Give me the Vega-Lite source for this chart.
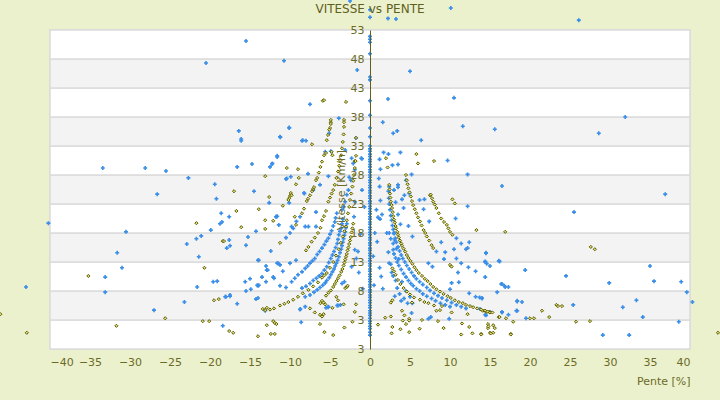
{
  "$schema": "https://vega.github.io/schema/vega-lite/v6.json",
  "width": 640,
  "height": 319,
  "autosize": "none",
  "padding": {"left": 50, "top": 30, "right": 30, "bottom": 51},
  "background": "#ecf1cd",
  "config": {"font": "DejaVu Sans", "view": {"stroke": "#d8d8d8", "strokeWidth": 1.5}},
  "title": {"text": "VITESSE vs PENTE", "fontSize": 12, "fontWeight": "normal", "color": "#5f5f1e", "offset": 0, "dy": 17},
  "datasets": {
    "bands": [
      {"p": -40, "p2": 40, "v": -2, "v2": 3, "b": "w"},
      {"p": -40, "p2": 40, "v": 3, "v2": 8, "b": "g"},
      {"p": -40, "p2": 40, "v": 8, "v2": 13, "b": "w"},
      {"p": -40, "p2": 40, "v": 13, "v2": 18, "b": "g"},
      {"p": -40, "p2": 40, "v": 18, "v2": 23, "b": "w"},
      {"p": -40, "p2": 40, "v": 23, "v2": 28, "b": "g"},
      {"p": -40, "p2": 40, "v": 28, "v2": 33, "b": "w"},
      {"p": -40, "p2": 40, "v": 33, "v2": 38, "b": "g"},
      {"p": -40, "p2": 40, "v": 38, "v2": 43, "b": "w"},
      {"p": -40, "p2": 40, "v": 43, "v2": 48, "b": "g"},
      {"p": -40, "p2": 40, "v": 48, "v2": 53, "b": "w"}
    ],
    "pts": [
      {"p":0,"v":0.4,"s":"b"},{"p":0,"v":0.9,"s":"b"},{"p":0,"v":1.5,"s":"b"},{"p":0,"v":1.9,"s":"b"},{"p":0,"v":2.4,"s":"b"},{"p":0,"v":2.8,"s":"b"},{"p":0,"v":3.3,"s":"b"},{"p":0,"v":3.8,"s":"b"},{"p":0,"v":4.2,"s":"b"},{"p":0,"v":4.6,"s":"b"},{"p":0,"v":5.1,"s":"b"},{"p":0,"v":5.5,"s":"b"},{"p":0,"v":6.0,"s":"b"},{"p":0,"v":6.4,"s":"b"},{"p":0,"v":6.9,"s":"b"},{"p":0,"v":7.3,"s":"b"},{"p":0,"v":7.8,"s":"b"},{"p":0,"v":8.2,"s":"b"},{"p":0,"v":8.7,"s":"b"},{"p":0,"v":9.1,"s":"b"},{"p":0,"v":9.6,"s":"b"},{"p":0,"v":10.0,"s":"b"},{"p":0,"v":10.5,"s":"b"},{"p":0,"v":10.9,"s":"b"},{"p":0,"v":11.4,"s":"b"},{"p":0,"v":11.8,"s":"b"},{"p":0,"v":12.3,"s":"b"},{"p":0,"v":12.7,"s":"b"},{"p":0,"v":13.2,"s":"b"},{"p":0,"v":13.6,"s":"b"},{"p":0,"v":14.1,"s":"b"},{"p":0,"v":14.5,"s":"b"},{"p":0,"v":15.0,"s":"b"},{"p":0,"v":15.4,"s":"b"},{"p":0,"v":15.9,"s":"b"},{"p":0,"v":16.3,"s":"b"},{"p":0,"v":16.8,"s":"b"},{"p":0,"v":17.2,"s":"b"},{"p":0,"v":17.7,"s":"b"},{"p":0,"v":18.1,"s":"b"},{"p":0,"v":18.6,"s":"b"},{"p":0,"v":19.0,"s":"b"},{"p":0,"v":19.5,"s":"b"},{"p":0,"v":19.9,"s":"b"},{"p":0,"v":20.4,"s":"b"},{"p":0,"v":20.8,"s":"b"},{"p":0,"v":21.3,"s":"b"},{"p":0,"v":21.7,"s":"b"},{"p":0,"v":22.2,"s":"b"},{"p":0,"v":22.6,"s":"b"},{"p":0,"v":23.1,"s":"b"},{"p":0,"v":23.5,"s":"b"},{"p":0,"v":24.0,"s":"b"},{"p":0,"v":24.4,"s":"b"},{"p":0,"v":24.9,"s":"b"},{"p":0,"v":25.3,"s":"b"},{"p":0,"v":25.8,"s":"b"},{"p":0,"v":26.2,"s":"b"},{"p":0,"v":26.7,"s":"b"},{"p":0,"v":27.1,"s":"b"},{"p":0,"v":27.6,"s":"b"},{"p":0,"v":28.0,"s":"b"},{"p":0,"v":28.5,"s":"b"},{"p":0,"v":28.9,"s":"b"},{"p":0,"v":29.4,"s":"b"},{"p":0,"v":29.8,"s":"b"},{"p":0,"v":30.3,"s":"b"},{"p":0,"v":30.7,"s":"b"},{"p":0,"v":31.2,"s":"b"},{"p":0,"v":31.6,"s":"b"},{"p":0,"v":32.1,"s":"b"},{"p":0,"v":32.5,"s":"b"},{"p":0,"v":33.0,"s":"b"},{"p":0,"v":34.6,"s":"b"},{"p":0,"v":36.1,"s":"b"},{"p":0,"v":38.3,"s":"b"},{"p":0,"v":40.8,"s":"b"},{"p":0,"v":44.4,"s":"b"},{"p":0,"v":44.9,"s":"b"},{"p":0,"v":48.9,"s":"b"},{"p":0,"v":50.9,"s":"b"},{"p":0,"v":51.4,"s":"b"},{"p":0,"v":51.9,"s":"b"},{"p":0,"v":55.2,"s":"b"},{"p":0,"v":56.5,"s":"b"},
      {"p":-33.4,"v":29.2,"s":"b"},{"p":-28.1,"v":29.2,"s":"b"},{"p":-25.5,"v":28.7,"s":"b"},{"p":-22.7,"v":27.5,"s":"b"},{"p":-19.4,"v":26.4,"s":"b"},{"p":-26.6,"v":24.7,"s":"b"},{"p":-19.2,"v":23.9,"s":"b"},{"p":-18.6,"v":21.4,"s":"b"},{"p":-17.6,"v":20.8,"s":"b"},{"p":-40.2,"v":19.7,"s":"b"},{"p":-18.5,"v":19.9,"s":"b"},{"p":-18.75,"v":19.6,"s":"b"},{"p":-30.5,"v":18.2,"s":"b"},{"p":-19.9,"v":18.5,"s":"b"},{"p":-21.1,"v":17.5,"s":"b"},{"p":-21.7,"v":17.0,"s":"b"},{"p":-17.6,"v":16.8,"s":"b"},{"p":-22.9,"v":16.1,"s":"b"},{"p":-17.5,"v":15.8,"s":"b"},{"p":-17.9,"v":15.4,"s":"b"},{"p":-31.6,"v":14.6,"s":"b"},{"p":-21.4,"v":13.9,"s":"b"},{"p":-31,"v":12.0,"s":"b"},{"p":-33.1,"v":10.4,"s":"b"},{"p":-19.6,"v":9.6,"s":"b"},{"p":-19.1,"v":9.7,"s":"b"},{"p":-21.6,"v":8.7,"s":"b"},{"p":-43,"v":8.7,"s":"b"},{"p":-33.1,"v":7.8,"s":"b"},{"p":-18.1,"v":7.0,"s":"b"},{"p":-17.5,"v":7.3,"s":"b"},{"p":-23.2,"v":6.1,"s":"b"},{"p":-16.6,"v":5.8,"s":"b"},{"p":-27,"v":4.7,"s":"b"},{"p":-18.4,"v":2.0,"s":"b"},{"p":-16.4,"v":35.6,"s":"b"},{"p":-15.5,"v":51.1,"s":"b"},{"p":-20.5,"v":47.3,"s":"b"},{"p":-10.75,"v":47.7,"s":"b"},{"p":-1.6,"v":46.1,"s":"b"},{"p":-7.5,"v":40.2,"s":"b"},{"p":-3.9,"v":37.8,"s":"b"},{"p":-5.1,"v":35.2,"s":"b"},{"p":-10.1,"v":36.1,"s":"b"},{"p":-11.25,"v":34.6,"s":"b"},{"p":-1.75,"v":34.4,"s":"b"},{"p":-16.1,"v":34.2,"s":"b"},{"p":-16.1,"v":33.9,"s":"b"},{"p":-8.5,"v":33.9,"s":"b"},{"p":-8.0,"v":33.9,"s":"b"},{"p":-4.9,"v":32.1,"s":"b"},{"p":-3.1,"v":32.3,"s":"b"},{"p":-1.0,"v":30.8,"s":"b"},{"p":-11.6,"v":31.1,"s":"b"},{"p":-14.75,"v":29.9,"s":"b"},{"p":-12.25,"v":29.9,"s":"b"},{"p":-12.5,"v":29.4,"s":"b"},{"p":-16.6,"v":29.4,"s":"b"},{"p":-7.75,"v":28.2,"s":"b"},{"p":-9.9,"v":27.7,"s":"b"},{"p":-10.5,"v":27.3,"s":"b"},{"p":-14.5,"v":25.2,"s":"b"},{"p":-8.25,"v":24.9,"s":"b"},{"p":-12.6,"v":23.2,"s":"b"},{"p":-10.1,"v":23.2,"s":"b"},{"p":-11.6,"v":20.9,"s":"b"},{"p":-11.75,"v":20.8,"s":"b"},{"p":-11.4,"v":19.4,"s":"b"},{"p":-14.25,"v":18.3,"s":"b"},{"p":-15.25,"v":17.3,"s":"b"},{"p":-15.5,"v":15.9,"s":"b"},{"p":-12.4,"v":14.9,"s":"b"},{"p":-13.9,"v":13.3,"s":"b"},{"p":-11.6,"v":12.8,"s":"b"},{"p":-11.25,"v":12.5,"s":"b"},{"p":-13,"v":12.3,"s":"b"},{"p":-12.9,"v":11.6,"s":"b"},{"p":-10.9,"v":11.4,"s":"b"},{"p":-13.5,"v":10.4,"s":"b"},{"p":-12.1,"v":10.4,"s":"b"},{"p":-15.6,"v":9.6,"s":"b"},{"p":-15,"v":10.1,"s":"b"},{"p":-13,"v":9.6,"s":"b"},{"p":-11.25,"v":8.9,"s":"b"},{"p":-14.1,"v":9,"s":"b"},{"p":-13.9,"v":9,"s":"b"},{"p":-14.9,"v":8.3,"s":"b"},{"p":-15.5,"v":8,"s":"b"},{"p":-14.25,"v":6.6,"s":"b"},{"p":-14,"v":6.8,"s":"b"},{"p":-18,"v":7,"s":"b"},{"p":-17.5,"v":7.1,"s":"b"},{"p":-10.1,"v":36.2,"s":"b"},{"p":-11.2,"v":34.5,"s":"b"},{"p":-8.4,"v":34,"s":"b"},{"p":-11.6,"v":31.3,"s":"b"},{"p":-12.2,"v":30,"s":"b"},{"p":-5.6,"v":32,"s":"b"},{"p":-10.4,"v":27.4,"s":"b"},{"p":-5.2,"v":27.8,"s":"b"},{"p":-8.2,"v":24.8,"s":"b"},{"p":-6.25,"v":26.3,"s":"b"},{"p":-6.75,"v":21.6,"s":"b"},{"p":-11.7,"v":20.8,"s":"b"},{"p":-8.1,"v":19.1,"s":"b"},{"p":-7.7,"v":19.1,"s":"b"},{"p":-6.75,"v":19.1,"s":"b"},{"p":-1.0,"v":25.4,"s":"b"},{"p":-1.1,"v":30.9,"s":"b"},{"p":-1.9,"v":28.9,"s":"b"},{"p":-1.9,"v":23.4,"s":"b"},{"p":-2.0,"v":20.8,"s":"b"},{"p":-14,"v":13.3,"s":"b"},{"p":-12.8,"v":11.6,"s":"b"},{"p":-12,"v":10.2,"s":"b"},{"p":-11.5,"v":12.8,"s":"b"},{"p":-10,"v":12.8,"s":"b"},{"p":-9.25,"v":13.3,"s":"b"},{"p":-14,"v":8.9,"s":"b"},{"p":-13.1,"v":4.6,"s":"b"},{"p":-8.6,"v":2.6,"s":"b"},{"p":-8.7,"v":4.9,"s":"b"},{"p":-8.1,"v":5.3,"s":"b"},{"p":-5.2,"v":5.3,"s":"b"},{"p":-4.0,"v":5.5,"s":"b"},{"p":-3.5,"v":9.3,"s":"b"},{"p":-3.2,"v":9.6,"s":"b"},{"p":-1.9,"v":15.1,"s":"b"},{"p":-1.5,"v":14.8,"s":"b"},{"p":-1.7,"v":13.6,"s":"b"},{"p":-7.1,"v":25.4,"s":"b"},{"p":-2.5,"v":58,"s":"b"},{"p":-5.5,"v":5.1,"s":"b"},{"p":-5.25,"v":5.2,"s":"b"},{"p":-4.1,"v":5.5,"s":"b"},{"p":-3.7,"v":5.6,"s":"b"},{"p":-8.75,"v":4.8,"s":"b"},{"p":-1.2,"v":17.8,"s":"b"},{"p":-0.7,"v":22.5,"s":"b"},{"p":-1.4,"v":11.2,"s":"b"},{"p":-2.3,"v":12.2,"s":"b"},{"p":-0.9,"v":8.4,"s":"b"},{"p":-2.6,"v":27.6,"s":"b"},
      {"p":-8.1,"v":7.0,"s":"b"},{"p":-7.5,"v":7.3,"s":"b"},{"p":-7.0,"v":7.8,"s":"b"},{"p":-6.6,"v":8.2,"s":"b"},{"p":-6.25,"v":8.6,"s":"b"},{"p":-5.9,"v":9.0,"s":"b"},{"p":-5.6,"v":9.4,"s":"b"},{"p":-5.4,"v":9.8,"s":"b"},{"p":-5.1,"v":10.3,"s":"b"},{"p":-4.9,"v":10.8,"s":"b"},{"p":-4.7,"v":11.3,"s":"b"},{"p":-4.5,"v":11.8,"s":"b"},{"p":-4.35,"v":12.3,"s":"b"},{"p":-4.2,"v":12.8,"s":"b"},{"p":-4.05,"v":13.3,"s":"b"},{"p":-3.9,"v":13.9,"s":"b"},{"p":-3.75,"v":14.6,"s":"b"},{"p":-3.6,"v":15.2,"s":"b"},{"p":-3.5,"v":15.8,"s":"b"},{"p":-3.4,"v":16.4,"s":"b"},{"p":-3.3,"v":17.0,"s":"b"},{"p":-3.2,"v":17.6,"s":"b"},{"p":-3.1,"v":18.2,"s":"b"},{"p":-3.0,"v":18.9,"s":"b"},{"p":-2.9,"v":19.6,"s":"b"},
      {"p":-8.5,"v":8.5,"s":"b"},{"p":-8.0,"v":8.8,"s":"b"},{"p":-7.5,"v":9.3,"s":"b"},{"p":-7.1,"v":9.8,"s":"b"},{"p":-6.7,"v":10.2,"s":"b"},{"p":-6.35,"v":10.6,"s":"b"},{"p":-6.0,"v":11.0,"s":"b"},{"p":-5.7,"v":11.6,"s":"b"},{"p":-5.4,"v":12.2,"s":"b"},{"p":-5.15,"v":12.9,"s":"b"},{"p":-4.9,"v":13.6,"s":"b"},{"p":-4.7,"v":14.2,"s":"b"},{"p":-4.5,"v":14.8,"s":"b"},{"p":-4.3,"v":15.5,"s":"b"},{"p":-4.1,"v":16.2,"s":"b"},{"p":-4.0,"v":16.9,"s":"b"},{"p":-3.9,"v":17.7,"s":"b"},{"p":-3.75,"v":18.3,"s":"b"},{"p":-3.6,"v":18.8,"s":"b"},{"p":-3.5,"v":19.6,"s":"b"},{"p":-3.4,"v":20.4,"s":"b"},
      {"p":-10.5,"v":8.6,"s":"b"},{"p":-9.8,"v":9.6,"s":"b"},{"p":-9.4,"v":10.2,"s":"b"},{"p":-9.0,"v":10.8,"s":"b"},{"p":-8.5,"v":11.3,"s":"b"},{"p":-8.1,"v":11.9,"s":"b"},{"p":-7.8,"v":12.3,"s":"b"},{"p":-7.5,"v":12.8,"s":"b"},{"p":-7.2,"v":13.2,"s":"b"},{"p":-6.9,"v":13.6,"s":"b"},{"p":-6.6,"v":14.3,"s":"b"},{"p":-6.3,"v":14.8,"s":"b"},{"p":-6.0,"v":15.4,"s":"b"},{"p":-5.7,"v":16.0,"s":"b"},{"p":-5.45,"v":16.6,"s":"b"},{"p":-5.2,"v":17.1,"s":"b"},{"p":-5.0,"v":17.8,"s":"b"},{"p":-4.8,"v":18.4,"s":"b"},{"p":-4.6,"v":19.2,"s":"b"},{"p":-4.4,"v":19.9,"s":"b"},{"p":-4.3,"v":20.6,"s":"b"},{"p":-4.15,"v":21.4,"s":"b"},
      {"p":-10.5,"v":17.2,"s":"b"},{"p":-10.0,"v":18.0,"s":"b"},{"p":-9.6,"v":18.8,"s":"b"},{"p":-9.8,"v":19.1,"s":"b"},{"p":-9.2,"v":20.0,"s":"b"},{"p":-8.75,"v":20.8,"s":"b"},
      {"p":-3.5,"v":22.0,"s":"b"},{"p":-3.3,"v":22.5,"s":"b"},{"p":-3.1,"v":23.4,"s":"b"},{"p":-2.9,"v":24.6,"s":"b"},{"p":-2.7,"v":25.4,"s":"b"},{"p":-2.4,"v":27.1,"s":"b"},{"p":-2.3,"v":30.9,"s":"b"},{"p":-2.1,"v":30.0,"s":"b"},
      {"p":2.25,"v":55,"s":"b"},{"p":3.25,"v":54.9,"s":"b"},{"p":10.1,"v":56.8,"s":"b"},{"p":26.1,"v":54.7,"s":"b"},{"p":5,"v":45.9,"s":"b"},{"p":2.25,"v":41.1,"s":"b"},{"p":10.5,"v":41.3,"s":"b"},{"p":1.6,"v":37.1,"s":"b"},{"p":2.9,"v":35.2,"s":"b"},{"p":3.4,"v":35.6,"s":"b"},{"p":11.6,"v":36.4,"s":"b"},{"p":15.6,"v":35.9,"s":"b"},{"p":28.6,"v":35.2,"s":"b"},{"p":31.9,"v":38,"s":"b"},{"p":16.5,"v":26.1,"s":"b"},{"p":36.9,"v":24.7,"s":"b"},{"p":25.5,"v":21.6,"s":"b"},{"p":14.5,"v":14.6,"s":"b"},{"p":14.4,"v":13.0,"s":"b"},{"p":14.6,"v":12.7,"s":"b"},{"p":15,"v":12.3,"s":"b"},{"p":16.1,"v":13.2,"s":"b"},{"p":19.4,"v":11.6,"s":"b"},{"p":35,"v":12.3,"s":"b"},{"p":14.4,"v":10.4,"s":"b"},{"p":24.5,"v":10.6,"s":"b"},{"p":38.9,"v":9.6,"s":"b"},{"p":35.5,"v":9.7,"s":"b"},{"p":29.9,"v":9.4,"s":"b"},{"p":16.4,"v":9.2,"s":"b"},{"p":16.8,"v":8.9,"s":"b"},{"p":17.3,"v":8.7,"s":"b"},{"p":15.9,"v":7.8,"s":"b"},{"p":39.6,"v":7.8,"s":"b"},{"p":14,"v":6.8,"s":"b"},{"p":18.4,"v":6.3,"s":"b"},{"p":19,"v":6.1,"s":"b"},{"p":40.3,"v":6.1,"s":"b"},{"p":33.3,"v":6.4,"s":"b"},{"p":31.6,"v":5.2,"s":"b"},{"p":25.4,"v":5.6,"s":"b"},{"p":13.75,"v":4.9,"s":"b"},{"p":15,"v":4.4,"s":"b"},{"p":16.5,"v":4.4,"s":"b"},{"p":18.4,"v":4.6,"s":"b"},{"p":14.4,"v":3.9,"s":"b"},{"p":17.3,"v":3.9,"s":"b"},{"p":19.5,"v":3.3,"s":"b"},{"p":34.1,"v":3.5,"s":"b"},{"p":38.6,"v":2.7,"s":"b"},{"p":29.1,"v":0.4,"s":"b"},{"p":32.4,"v":0.4,"s":"b"},{"p":6.4,"v":34.0,"s":"b"},{"p":1.7,"v":31.9,"s":"b"},{"p":2.3,"v":31.6,"s":"b"},{"p":3.8,"v":31.9,"s":"b"},{"p":9.7,"v":30.5,"s":"b"},{"p":1.2,"v":30.7,"s":"b"},{"p":1.3,"v":29,"s":"b"},{"p":2.8,"v":29.7,"s":"b"},{"p":3.5,"v":29.8,"s":"b"},{"p":5.2,"v":28.1,"s":"b"},{"p":12.2,"v":28.1,"s":"b"},{"p":1.1,"v":27.4,"s":"b"},{"p":4.5,"v":27.1,"s":"b"},{"p":1.2,"v":26,"s":"b"},{"p":2.4,"v":26,"s":"b"},{"p":3,"v":25.4,"s":"b"},{"p":3.5,"v":26.3,"s":"b"},{"p":3.5,"v":25.9,"s":"b"},{"p":4.3,"v":24.5,"s":"b"},{"p":4.9,"v":24.8,"s":"b"},{"p":4,"v":23.8,"s":"b"},{"p":6.2,"v":23.7,"s":"b"},{"p":6.8,"v":23.8,"s":"b"},{"p":1.3,"v":23.6,"s":"b"},{"p":3.2,"v":23.3,"s":"b"},{"p":12.2,"v":22.6,"s":"b"},{"p":4.2,"v":22.3,"s":"b"},{"p":6.7,"v":22.1,"s":"b"},{"p":1.5,"v":21.2,"s":"b"},{"p":1,"v":20.7,"s":"b"},{"p":1.25,"v":20.4,"s":"b"},{"p":3.5,"v":21.2,"s":"b"},{"p":10.7,"v":20.5,"s":"b"},{"p":7.4,"v":20,"s":"b"},{"p":2.1,"v":18,"s":"b"},{"p":2.4,"v":18,"s":"b"},{"p":3,"v":18,"s":"b"},{"p":5.3,"v":17.4,"s":"b"},{"p":4.8,"v":19.2,"s":"b"},{"p":3.8,"v":19.5,"s":"b"},{"p":2.9,"v":16.2,"s":"b"},{"p":3.1,"v":16.8,"s":"b"},{"p":8.9,"v":16.4,"s":"b"},{"p":11.4,"v":16.2,"s":"b"},{"p":12.4,"v":16.4,"s":"b"},{"p":12.2,"v":15.4,"s":"b"},{"p":12,"v":15.2,"s":"b"},{"p":10.8,"v":17.1,"s":"b"},{"p":8.3,"v":14.8,"s":"b"},{"p":9.4,"v":14.7,"s":"b"},{"p":10.5,"v":15.2,"s":"b"},{"p":14.5,"v":14.5,"s":"b"},{"p":2.3,"v":14.7,"s":"b"},{"p":2.4,"v":12.8,"s":"b"},{"p":2.6,"v":12.6,"s":"b"},{"p":7.3,"v":12.8,"s":"b"},{"p":7.8,"v":12.2,"s":"b"},{"p":9.25,"v":13.5,"s":"b"},{"p":10.8,"v":13.6,"s":"b"},{"p":11.4,"v":12.8,"s":"b"},{"p":12.3,"v":12.1,"s":"b"},{"p":13.2,"v":11.4,"s":"b"},{"p":14.4,"v":13.1,"s":"b"},{"p":16.2,"v":13.1,"s":"b"},{"p":11,"v":11.2,"s":"b"},{"p":11.1,"v":9.5,"s":"b"},{"p":10.2,"v":9.4,"s":"b"},{"p":10,"v":8.3,"s":"b"},{"p":12.4,"v":7.6,"s":"b"},{"p":13.2,"v":7.0,"s":"b"},{"p":13.7,"v":6.9,"s":"b"},{"p":14,"v":6.7,"s":"b"},{"p":16.5,"v":9.2,"s":"b"},{"p":16.9,"v":8.7,"s":"b"},{"p":18.4,"v":6.2,"s":"b"},{"p":18.3,"v":4.6,"s":"b"},{"p":14.5,"v":3.8,"s":"b"},{"p":16.5,"v":4.3,"s":"b"},{"p":9.9,"v":3.2,"s":"b"},{"p":7.6,"v":3.5,"s":"b"},{"p":7.3,"v":3.2,"s":"b"},{"p":5.2,"v":4.2,"s":"b"},{"p":3.9,"v":6.3,"s":"b"},{"p":4.25,"v":6.7,"s":"b"},{"p":4.7,"v":5.9,"s":"b"},{"p":5.3,"v":5.9,"s":"b"},{"p":0.4,"v":14,"s":"b"},{"p":0.6,"v":18,"s":"b"},{"p":0.8,"v":22,"s":"b"},{"p":0.5,"v":9,"s":"b"},{"p":1.2,"v":12,"s":"b"},{"p":1.6,"v":8.4,"s":"b"},{"p":0.9,"v":16.5,"s":"b"},{"p":1.4,"v":10.5,"s":"b"},{"p":2.6,"v":17,"s":"b"},{"p":3.3,"v":15.3,"s":"b"},{"p":3.6,"v":13.5,"s":"b"},{"p":2.7,"v":11.2,"s":"b"},{"p":3.2,"v":9.8,"s":"b"},{"p":3.4,"v":8.5,"s":"b"},{"p":4.0,"v":9.6,"s":"b"},{"p":3.7,"v":7.5,"s":"b"},{"p":4.5,"v":8.0,"s":"b"},{"p":5.0,"v":7.0,"s":"b"},{"p":2.9,"v":10.6,"s":"b"},{"p":3.1,"v":7.1,"s":"b"},
      {"p":2.3,"v":25.2,"s":"b"},{"p":2.35,"v":24.0,"s":"b"},{"p":2.4,"v":23.0,"s":"b"},{"p":2.5,"v":22.0,"s":"b"},{"p":2.6,"v":21.0,"s":"b"},{"p":2.7,"v":20.2,"s":"b"},{"p":2.8,"v":19.3,"s":"b"},{"p":2.9,"v":18.6,"s":"b"},{"p":3.0,"v":17.9,"s":"b"},{"p":3.15,"v":17.1,"s":"b"},{"p":3.3,"v":16.4,"s":"b"},{"p":3.5,"v":15.6,"s":"b"},{"p":3.7,"v":14.9,"s":"b"},{"p":3.9,"v":14.2,"s":"b"},{"p":4.1,"v":13.6,"s":"b"},{"p":4.35,"v":13.0,"s":"b"},{"p":4.6,"v":12.4,"s":"b"},{"p":4.9,"v":11.8,"s":"b"},{"p":5.2,"v":11.2,"s":"b"},{"p":5.5,"v":10.6,"s":"b"},{"p":5.8,"v":10.1,"s":"b"},{"p":6.2,"v":9.6,"s":"b"},{"p":6.6,"v":9.1,"s":"b"},{"p":7.1,"v":8.6,"s":"b"},{"p":7.5,"v":8.1,"s":"b"},{"p":8.0,"v":7.6,"s":"b"},{"p":8.5,"v":7.2,"s":"b"},{"p":9.0,"v":6.8,"s":"b"},{"p":9.6,"v":6.4,"s":"b"},{"p":10.2,"v":6.0,"s":"b"},{"p":10.8,"v":5.6,"s":"b"},{"p":11.4,"v":5.3,"s":"b"},{"p":12.0,"v":5.0,"s":"b"},
      {"p":2.9,"v":15.1,"s":"b"},{"p":3.0,"v":14.4,"s":"b"},{"p":3.2,"v":13.7,"s":"b"},{"p":3.4,"v":13.0,"s":"b"},{"p":3.6,"v":12.4,"s":"b"},{"p":3.9,"v":11.7,"s":"b"},{"p":4.2,"v":11.0,"s":"b"},{"p":4.5,"v":10.4,"s":"b"},{"p":4.8,"v":9.8,"s":"b"},{"p":5.1,"v":9.3,"s":"b"},{"p":5.4,"v":8.9,"s":"b"},{"p":5.8,"v":8.4,"s":"b"},{"p":6.2,"v":8.0,"s":"b"},{"p":6.6,"v":7.5,"s":"b"},{"p":7.1,"v":7.1,"s":"b"},{"p":7.7,"v":6.7,"s":"b"},{"p":8.2,"v":6.3,"s":"b"},{"p":8.8,"v":5.9,"s":"b"},{"p":9.4,"v":5.6,"s":"b"},{"p":10.0,"v":5.3,"s":"b"},
      {"p":-17,"v":25.2,"s":"o"},{"p":-16.7,"v":21.8,"s":"o"},{"p":-21.7,"v":19.7,"s":"o"},{"p":-18.4,"v":16.6,"s":"o"},{"p":-20.7,"v":12.0,"s":"o"},{"p":-35.2,"v":10.6,"s":"o"},{"p":-19.5,"v":6.4,"s":"o"},{"p":-18.9,"v":6.6,"s":"o"},{"p":-25.6,"v":3.3,"s":"o"},{"p":-46.2,"v":4.0,"s":"o"},{"p":-20.9,"v":2.8,"s":"o"},{"p":-20.1,"v":2.8,"s":"o"},{"p":-31.7,"v":2.0,"s":"o"},{"p":-42.9,"v":0.8,"s":"o"},{"p":-17.6,"v":1.1,"s":"o"},{"p":-17.1,"v":0.8,"s":"o"},{"p":-5.9,"v":40.8,"s":"o"},{"p":-5.75,"v":40.9,"s":"o"},{"p":-3,"v":40.6,"s":"o"},{"p":-4.9,"v":37.1,"s":"o"},{"p":-4.9,"v":36.8,"s":"o"},{"p":-3.25,"v":37.5,"s":"o"},{"p":-3.25,"v":37.1,"s":"o"},{"p":-5,"v":36.1,"s":"o"},{"p":-5.25,"v":34.9,"s":"o"},{"p":-7.25,"v":33.3,"s":"o"},{"p":-1.9,"v":30.4,"s":"o"},{"p":-1.75,"v":34.4,"s":"o"},{"p":-10.4,"v":29.2,"s":"o"},{"p":-9,"v":29,"s":"o"},{"p":-13.1,"v":27.8,"s":"o"},{"p":-8.9,"v":27.5,"s":"o"},{"p":-9.25,"v":26.4,"s":"o"},{"p":-9.9,"v":24.9,"s":"o"},{"p":-10,"v":24.4,"s":"o"},{"p":-10.1,"v":24,"s":"o"},{"p":-12.6,"v":24.2,"s":"o"},{"p":-10.9,"v":22.7,"s":"o"},{"p":-13.9,"v":22.1,"s":"o"},{"p":-13.1,"v":20.2,"s":"o"},{"p":-12.1,"v":20.1,"s":"o"},{"p":-16.1,"v":19.0,"s":"o"},{"p":-13.1,"v":18.7,"s":"o"},{"p":-18.25,"v":16.6,"s":"o"},{"p":-11.25,"v":16.3,"s":"o"},{"p":-13.4,"v":4.9,"s":"o"},{"p":-12.9,"v":5.1,"s":"o"},{"p":-13.1,"v":4.7,"s":"o"},{"p":-12.1,"v":2.8,"s":"o"},{"p":-11.9,"v":2.5,"s":"o"},{"p":-14,"v":0.2,"s":"o"},{"p":-12.9,"v":2.1,"s":"o"},{"p":-12.4,"v":0.6,"s":"o"},{"p":-11.9,"v":0.6,"s":"o"},{"p":-10.2,"v":23.7,"s":"o"},{"p":-9.8,"v":24.5,"s":"o"},{"p":-9.4,"v":20.8,"s":"o"},{"p":-11.7,"v":2.3,"s":"o"},{"p":-7.5,"v":5.0,"s":"o"},{"p":-6.9,"v":4.3,"s":"o"},{"p":-6.25,"v":3.9,"s":"o"},{"p":-6,"v":3.6,"s":"o"},{"p":-5.8,"v":4.0,"s":"o"},{"p":-6.2,"v":5.9,"s":"o"},{"p":-5.8,"v":6.0,"s":"o"},{"p":-5.6,"v":5.7,"s":"o"},{"p":-4.2,"v":7.0,"s":"o"},{"p":-4.0,"v":6.4,"s":"o"},{"p":-4.7,"v":5.1,"s":"o"},{"p":-3.3,"v":5.7,"s":"o"},{"p":-6.25,"v":2.3,"s":"o"},{"p":-5.7,"v":0.9,"s":"o"},{"p":-4.6,"v":0.4,"s":"o"},{"p":-3.2,"v":1.7,"s":"o"},{"p":-2.2,"v":2.7,"s":"o"},{"p":-1.9,"v":4.4,"s":"o"},{"p":-1.75,"v":5.7,"s":"o"},{"p":-3.1,"v":8.5,"s":"o"},{"p":-2.9,"v":8.7,"s":"o"},{"p":-2.8,"v":8.9,"s":"o"},{"p":-4.8,"v":32,"s":"o"},{"p":-4.7,"v":31.4,"s":"o"},
      {"p":-12.5,"v":4.8,"s":"o"},{"p":-12.0,"v":5.0,"s":"o"},{"p":-11.25,"v":5.5,"s":"o"},{"p":-10.7,"v":5.8,"s":"o"},{"p":-10.2,"v":6.1,"s":"o"},{"p":-9.6,"v":6.5,"s":"o"},{"p":-9.0,"v":7.0,"s":"o"},{"p":-8.4,"v":7.6,"s":"o"},{"p":-7.7,"v":8.2,"s":"o"},{"p":-7.1,"v":8.8,"s":"o"},{"p":-6.5,"v":9.5,"s":"o"},{"p":-6.0,"v":10.3,"s":"o"},{"p":-5.7,"v":10.7,"s":"o"},{"p":-5.4,"v":11.1,"s":"o"},{"p":-5.0,"v":12.0,"s":"o"},{"p":-4.6,"v":13.0,"s":"o"},{"p":-4.25,"v":14.1,"s":"o"},{"p":-3.9,"v":15.2,"s":"o"},{"p":-3.65,"v":16.3,"s":"o"},{"p":-3.4,"v":17.4,"s":"o"},{"p":-3.2,"v":18.3,"s":"o"},{"p":-3.0,"v":19.1,"s":"o"},{"p":-2.9,"v":20.2,"s":"o"},{"p":-2.75,"v":21.4,"s":"o"},{"p":-2.6,"v":22.5,"s":"o"},{"p":-2.5,"v":23.7,"s":"o"},{"p":-2.35,"v":24.8,"s":"o"},{"p":-2.2,"v":26.0,"s":"o"},{"p":-2.1,"v":27.0,"s":"o"},{"p":-2.0,"v":28.0,"s":"o"},{"p":-1.9,"v":29.2,"s":"o"},{"p":-1.8,"v":30.4,"s":"o"},{"p":-1.75,"v":31.3,"s":"o"},
      {"p":-6.0,"v":6.3,"s":"o"},{"p":-5.5,"v":7.2,"s":"o"},{"p":-5.2,"v":7.7,"s":"o"},{"p":-4.9,"v":8.1,"s":"o"},{"p":-4.6,"v":8.7,"s":"o"},{"p":-4.4,"v":9.2,"s":"o"},{"p":-4.2,"v":9.7,"s":"o"},{"p":-4.0,"v":10.2,"s":"o"},{"p":-3.8,"v":10.7,"s":"o"},{"p":-3.6,"v":11.3,"s":"o"},{"p":-3.45,"v":11.8,"s":"o"},{"p":-3.3,"v":12.4,"s":"o"},{"p":-3.2,"v":12.9,"s":"o"},{"p":-3.1,"v":13.4,"s":"o"},{"p":-3.0,"v":13.9,"s":"o"},{"p":-2.9,"v":14.4,"s":"o"},{"p":-2.8,"v":15.0,"s":"o"},{"p":-2.7,"v":15.5,"s":"o"},{"p":-2.6,"v":16.1,"s":"o"},{"p":-2.5,"v":16.7,"s":"o"},{"p":-2.4,"v":17.3,"s":"o"},{"p":-2.3,"v":18.1,"s":"o"},{"p":-2.2,"v":18.8,"s":"o"},{"p":-2.1,"v":19.6,"s":"o"},
      {"p":-8.0,"v":15.0,"s":"o"},{"p":-7.7,"v":15.6,"s":"o"},{"p":-7.3,"v":16.5,"s":"o"},{"p":-6.9,"v":17.2,"s":"o"},{"p":-6.5,"v":18.0,"s":"o"},{"p":-6.2,"v":18.9,"s":"o"},{"p":-6.0,"v":20.2,"s":"o"},{"p":-5.75,"v":20.9,"s":"o"},{"p":-5.5,"v":21.8,"s":"o"},{"p":-5.2,"v":23.4,"s":"o"},{"p":-5.0,"v":24.1,"s":"o"},{"p":-4.8,"v":24.8,"s":"o"},{"p":-4.6,"v":25.4,"s":"o"},{"p":-4.4,"v":26.3,"s":"o"},{"p":-4.2,"v":27.5,"s":"o"},{"p":-4.0,"v":28.6,"s":"o"},{"p":-3.85,"v":29.6,"s":"o"},{"p":-3.7,"v":30.5,"s":"o"},{"p":-3.6,"v":31.4,"s":"o"},{"p":-3.5,"v":32.6,"s":"o"},{"p":-3.4,"v":33.7,"s":"o"},{"p":-3.3,"v":35.0,"s":"o"},{"p":-3.25,"v":36.3,"s":"o"},
      {"p":-9.25,"v":19.4,"s":"o"},{"p":-8.5,"v":21.4,"s":"o"},{"p":-8.25,"v":22.2,"s":"o"},{"p":-7.9,"v":23.5,"s":"o"},{"p":-7.75,"v":23.9,"s":"o"},{"p":-7.5,"v":24.5,"s":"o"},{"p":-7.25,"v":25.2,"s":"o"},{"p":-7.1,"v":25.6,"s":"o"},{"p":-7.0,"v":25.9,"s":"o"},{"p":-6.75,"v":27.1,"s":"o"},{"p":-6.6,"v":27.5,"s":"o"},{"p":-6.4,"v":28.4,"s":"o"},{"p":-6.2,"v":29.4,"s":"o"},{"p":-6.0,"v":30.3,"s":"o"},{"p":-5.75,"v":31.4,"s":"o"},{"p":-5.5,"v":31.8,"s":"o"},{"p":-5.4,"v":34.0,"s":"o"},{"p":-5.1,"v":35.8,"s":"o"},{"p":-4.9,"v":37.5,"s":"o"},
      {"p":16.9,"v":18.2,"s":"o"},{"p":27.6,"v":15.6,"s":"o"},{"p":28.1,"v":15.2,"s":"o"},{"p":23.3,"v":5.6,"s":"o"},{"p":23.5,"v":5.4,"s":"o"},{"p":24,"v":5.4,"s":"o"},{"p":14.1,"v":4.6,"s":"o"},{"p":14.4,"v":4.6,"s":"o"},{"p":14.6,"v":4.4,"s":"o"},{"p":14.9,"v":4.4,"s":"o"},{"p":21.5,"v":4.6,"s":"o"},{"p":16.1,"v":3.5,"s":"o"},{"p":17,"v":3.3,"s":"o"},{"p":20,"v":3.3,"s":"o"},{"p":20.5,"v":3.3,"s":"o"},{"p":22.4,"v":3.5,"s":"o"},{"p":17.9,"v":2.7,"s":"o"},{"p":25.75,"v":2.7,"s":"o"},{"p":27.5,"v":2.8,"s":"o"},{"p":14.75,"v":2.3,"s":"o"},{"p":15.4,"v":2.1,"s":"o"},{"p":14.75,"v":1.6,"s":"o"},{"p":15.6,"v":1.6,"s":"o"},{"p":13.9,"v":0.6,"s":"o"},{"p":15,"v":0.8,"s":"o"},{"p":15.4,"v":0.8,"s":"o"},{"p":17.6,"v":0.6,"s":"o"},{"p":43.5,"v":0.8,"s":"o"},{"p":5.8,"v":31.6,"s":"o"},{"p":6,"v":30,"s":"o"},{"p":8,"v":30.4,"s":"o"},{"p":2,"v":30.9,"s":"o"},{"p":2.2,"v":29.3,"s":"o"},{"p":7.5,"v":24.5,"s":"o"},{"p":10.3,"v":23.8,"s":"o"},{"p":10.6,"v":23.1,"s":"o"},{"p":13.3,"v":18.5,"s":"o"},{"p":1,"v":2.2,"s":"o"},{"p":1.9,"v":3.4,"s":"o"},{"p":2.6,"v":3.6,"s":"o"},{"p":2.8,"v":1.8,"s":"o"},{"p":2.7,"v":0.7,"s":"o"},{"p":3.8,"v":1.4,"s":"o"},{"p":4.5,"v":2.3,"s":"o"},{"p":4.9,"v":0.9,"s":"o"},{"p":6.2,"v":1.5,"s":"o"},{"p":6.5,"v":3,"s":"o"},{"p":8.5,"v":2.8,"s":"o"},{"p":9.2,"v":1.6,"s":"o"},{"p":11.4,"v":0.5,"s":"o"},{"p":11.5,"v":2.4,"s":"o"},{"p":12.4,"v":1.8,"s":"o"},{"p":12.8,"v":0.7,"s":"o"},{"p":13.9,"v":0.5,"s":"o"},{"p":14.8,"v":1.9,"s":"o"},{"p":15.1,"v":0.7,"s":"o"},{"p":16.2,"v":3.5,"s":"o"},{"p":17.6,"v":0.5,"s":"o"},{"p":4,"v":4.6,"s":"o"},{"p":4.3,"v":3.8,"s":"o"},{"p":4.9,"v":3.2,"s":"o"},{"p":4.9,"v":2.9,"s":"o"},{"p":4.1,"v":2.9,"s":"o"},{"p":2.6,"v":6,"s":"o"},{"p":2.8,"v":6.4,"s":"o"},{"p":8.3,"v":4.6,"s":"o"},{"p":8.75,"v":4.7,"s":"o"},{"p":9,"v":5.4,"s":"o"},{"p":10.2,"v":4.3,"s":"o"},{"p":12.2,"v":4,"s":"o"},{"p":5.25,"v":6,"s":"o"},{"p":10,"v":12.5,"s":"o"},{"p":10.2,"v":12.2,"s":"o"},
      {"p":2.4,"v":26.3,"s":"o"},{"p":2.45,"v":25.5,"s":"o"},{"p":2.5,"v":24.8,"s":"o"},{"p":2.55,"v":24.1,"s":"o"},{"p":2.6,"v":23.4,"s":"o"},{"p":2.7,"v":22.8,"s":"o"},{"p":2.75,"v":22.3,"s":"o"},{"p":2.85,"v":21.6,"s":"o"},{"p":2.9,"v":20.9,"s":"o"},{"p":3.0,"v":20.3,"s":"o"},{"p":3.1,"v":19.8,"s":"o"},{"p":3.2,"v":19.2,"s":"o"},{"p":3.25,"v":18.8,"s":"o"},{"p":3.4,"v":18.2,"s":"o"},{"p":3.5,"v":17.7,"s":"o"},{"p":3.6,"v":17.2,"s":"o"},{"p":3.75,"v":16.7,"s":"o"},{"p":3.9,"v":16.2,"s":"o"},{"p":4.0,"v":15.8,"s":"o"},{"p":4.2,"v":15.3,"s":"o"},{"p":4.4,"v":14.8,"s":"o"},{"p":4.6,"v":14.2,"s":"o"},{"p":4.8,"v":13.7,"s":"o"},{"p":5.05,"v":13.2,"s":"o"},{"p":5.3,"v":12.7,"s":"o"},{"p":5.55,"v":12.1,"s":"o"},{"p":5.8,"v":11.6,"s":"o"},{"p":6.1,"v":11.1,"s":"o"},{"p":6.5,"v":10.6,"s":"o"},{"p":6.85,"v":10.1,"s":"o"},{"p":7.2,"v":9.7,"s":"o"},{"p":7.55,"v":9.2,"s":"o"},{"p":7.9,"v":8.7,"s":"o"},{"p":8.3,"v":8.3,"s":"o"},{"p":8.75,"v":7.9,"s":"o"},{"p":9.2,"v":7.5,"s":"o"},{"p":9.7,"v":7.1,"s":"o"},{"p":10.1,"v":6.8,"s":"o"},{"p":10.6,"v":6.4,"s":"o"},{"p":11.1,"v":6.1,"s":"o"},{"p":11.6,"v":5.9,"s":"o"},{"p":12.0,"v":5.6,"s":"o"},{"p":12.5,"v":5.4,"s":"o"},{"p":12.9,"v":5.2,"s":"o"},{"p":13.4,"v":5.0,"s":"o"},{"p":13.9,"v":4.8,"s":"o"},{"p":14.4,"v":4.6,"s":"o"},{"p":14.7,"v":4.45,"s":"o"},{"p":15.0,"v":4.3,"s":"o"},{"p":15.3,"v":4.3,"s":"o"},
      {"p":2.8,"v":11.9,"s":"o"},{"p":3.0,"v":11.4,"s":"o"},{"p":3.2,"v":10.8,"s":"o"},{"p":3.5,"v":9.9,"s":"o"},{"p":3.8,"v":9.2,"s":"o"},{"p":4.2,"v":8.5,"s":"o"},{"p":4.6,"v":7.9,"s":"o"},{"p":5.0,"v":7.4,"s":"o"},{"p":5.5,"v":6.9,"s":"o"},{"p":6.25,"v":6.5,"s":"o"},{"p":6.8,"v":6.1,"s":"o"},{"p":7.3,"v":5.9,"s":"o"},{"p":8.0,"v":5.5,"s":"o"},
      {"p":4.5,"v":28.0,"s":"o"},{"p":4.6,"v":27.1,"s":"o"},{"p":4.7,"v":26.4,"s":"o"},{"p":4.8,"v":25.7,"s":"o"},{"p":4.95,"v":25.0,"s":"o"},{"p":5.1,"v":24.3,"s":"o"},{"p":5.25,"v":23.5,"s":"o"},{"p":5.4,"v":22.8,"s":"o"},{"p":5.6,"v":22.1,"s":"o"},{"p":5.8,"v":21.4,"s":"o"},{"p":6.0,"v":20.7,"s":"o"},{"p":6.25,"v":20.0,"s":"o"},{"p":6.45,"v":19.3,"s":"o"},{"p":6.7,"v":18.5,"s":"o"},{"p":6.9,"v":18.0,"s":"o"},{"p":7.1,"v":17.4,"s":"o"},{"p":7.4,"v":16.7,"s":"o"},{"p":7.7,"v":15.9,"s":"o"},{"p":7.9,"v":15.4,"s":"o"},
      {"p":7.6,"v":24.6,"s":"o"},{"p":7.75,"v":24.0,"s":"o"},{"p":7.9,"v":23.4,"s":"o"},{"p":8.1,"v":22.9,"s":"o"},{"p":8.3,"v":22.3,"s":"o"},{"p":8.6,"v":21.4,"s":"o"},{"p":8.9,"v":20.5,"s":"o"},{"p":9.25,"v":19.9,"s":"o"},{"p":9.6,"v":19.4,"s":"o"},{"p":9.8,"v":18.8,"s":"o"},{"p":10.0,"v":18.2,"s":"o"},{"p":10.3,"v":17.7,"s":"o"}
    ]
  },
  "encoding": {
    "x": {
      "field": "p",
      "type": "quantitative",
      "scale": {"domain": [-40, 40], "nice": false, "zero": false},
      "axis": {
        "title": "Pente [%]",
        "values": [-40, -35, -30, -25, -20, -15, -10, -5, 0, 5, 10, 15, 20, 25, 30, 35, 40],
        "grid": false,
        "ticks": false,
        "domain": false,
        "labelColor": "#6b6b28",
        "labelFontSize": 11,
        "labelPadding": 7,
        "titleAnchor": "end",
        "titleColor": "#6b6b28",
        "titleFontSize": 11,
        "titleFontWeight": "normal",
        "titlePadding": 8
      }
    },
    "y": {
      "field": "v",
      "type": "quantitative",
      "scale": {"domain": [-2, 53], "nice": false, "zero": false},
      "axis": {
        "title": "Vitesse [Km/h]",
        "values": [-2, 3, 8, 13, 18, 23, 28, 33, 38, 43, 48, 53],
        "labelExpr": "datum.value < 0 ? '3' : datum.label",
        "offset": -320,
        "grid": false,
        "ticks": false,
        "domainColor": "#5f5f1e",
        "domainWidth": 1,
        "labelColor": "#6b6b28",
        "labelFontSize": 11,
        "labelPadding": 6,
        "titleColor": "#6b6b28",
        "titleFontSize": 11,
        "titleFontWeight": "normal",
        "titlePadding": 4,
        "zindex": 1
      }
    }
  },
  "layer": [
    {
      "data": {"name": "bands"},
      "mark": {"type": "rect", "stroke": "#dcdcdc", "strokeWidth": 1.5},
      "encoding": {
        "x2": {"field": "p2"},
        "y2": {"field": "v2"},
        "fill": {"field": "b", "type": "nominal", "scale": {"domain": ["w", "g"], "range": ["#ffffff", "#f3f3f3"]}, "legend": null}
      }
    },
    {
      "data": {"name": "pts"},
      "transform": [{"filter": "datum.s == 'b'"}],
      "mark": {"type": "point", "shape": "cross", "filled": true, "size": 16, "color": "#3a8ee8", "opacity": 1, "clip": false}
    },
    {
      "data": {"name": "pts"},
      "transform": [{"filter": "datum.s == 'o'"}],
      "mark": {"type": "point", "shape": "diamond", "filled": true, "size": 10, "fill": "#e2e27a", "stroke": "#5c5c00", "strokeWidth": 1, "opacity": 1, "clip": false}
    }
  ]
}
